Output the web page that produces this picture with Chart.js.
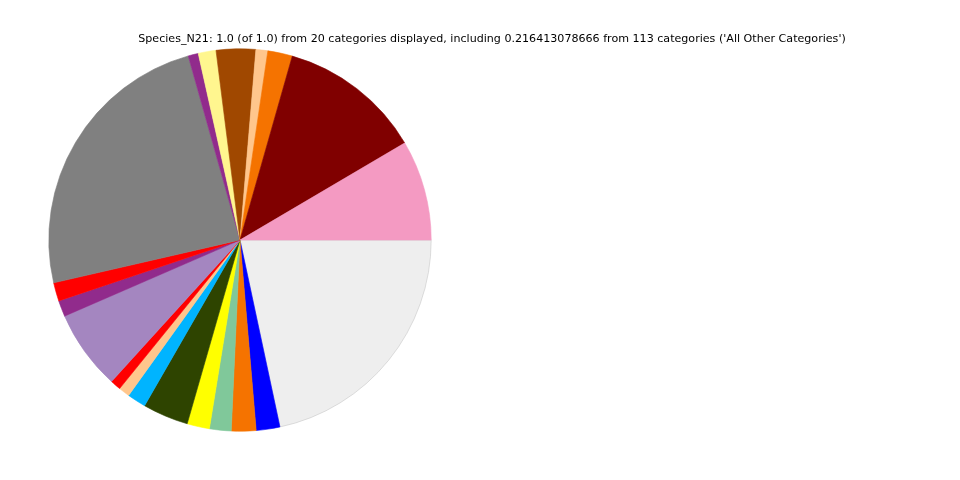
<!DOCTYPE html>
<html>
<head>
<meta charset="utf-8">
<script src="https://cdn.jsdelivr.net/npm/chart.js@4/dist/chart.umd.min.js"></script>
<style>
    html, body { margin: 0; padding: 0; background: #fff; }
    #wrap { width: 960px; height: 480px; position: relative; }
</style>
</head>
<body>
<div id="wrap"><canvas id="grafico"></canvas></div>
<script>
// slices in matplotlib order (counter-clockwise from 3 o'clock)
const categorias = [
    'Category 1', 'Category 2', 'Category 3', 'Category 4', 'Category 5',
    'Category 6', 'Category 7', 'Category 8', 'Category 9', 'Category 10',
    'Category 11', 'Category 12', 'Category 13', 'Category 14', 'Category 15',
    'Category 16', 'Category 17', 'Category 18', 'Category 19', 'All Other Categories'
];
const valores = [
    0.0847, 0.1211, 0.0208, 0.0100, 0.0333,
    0.0150, 0.0086, 0.2422, 0.0156, 0.0136,
    0.0675, 0.0089, 0.0094, 0.0158, 0.0386,
    0.0189, 0.0183, 0.0208, 0.0200, 0.2164
];
const colores = [
    '#f49ac2', '#800000', '#f57300', '#ffc68c', '#a04800',
    '#fff68f', '#912b8c', '#808080', '#ff0000', '#912b8c',
    '#a486c0', '#ff0000', '#ffc68c', '#00b4ff', '#2e4400',
    '#ffff00', '#80c89a', '#f57300', '#0000ff', '#eeeeee'
];
const titulo = "Species_N21: 1.0 (of 1.0) from 20 categories displayed, including 0.216413078666 from 113 categories ('All Other Categories')";

// Chart.js goes clockwise from the top, so reverse and start at 3 o'clock
const labels = categorias.slice().reverse();
const data = valores.slice().reverse();
const bg = colores.slice().reverse();
const bordes = bg.map(c => (c === '#eeeeee' ? '#c8c8c8' : c));

const tituloPlugin = {
    id: 'tituloPlugin',
    afterDraw(chart) {
        const ctx = chart.ctx;
        ctx.save();
        ctx.font = '11.1px "DejaVu Sans"';
        ctx.fillStyle = '#000';
        ctx.textAlign = 'center';
        ctx.textBaseline = 'middle';
        ctx.fillText(titulo, 492, 39.5);
        ctx.restore();
    }
};

new Chart(document.getElementById('grafico').getContext('2d'), {
    type: 'pie',
    data: {
        labels: labels,
        datasets: [{
            data: data,
            backgroundColor: bg,
            borderColor: bordes,
            borderWidth: 0.6,
        }],
    },
    options: {
        responsive: true,
        maintainAspectRatio: false,
        animation: false,
        rotation: 90,
        layout: { padding: { left: 48.5, top: 48.5, right: 528.5, bottom: 48.5 } },
        plugins: {
            legend: { display: false },
            title: { display: false },
        },
    },
    plugins: [tituloPlugin],
});
</script>
</body>
</html>
